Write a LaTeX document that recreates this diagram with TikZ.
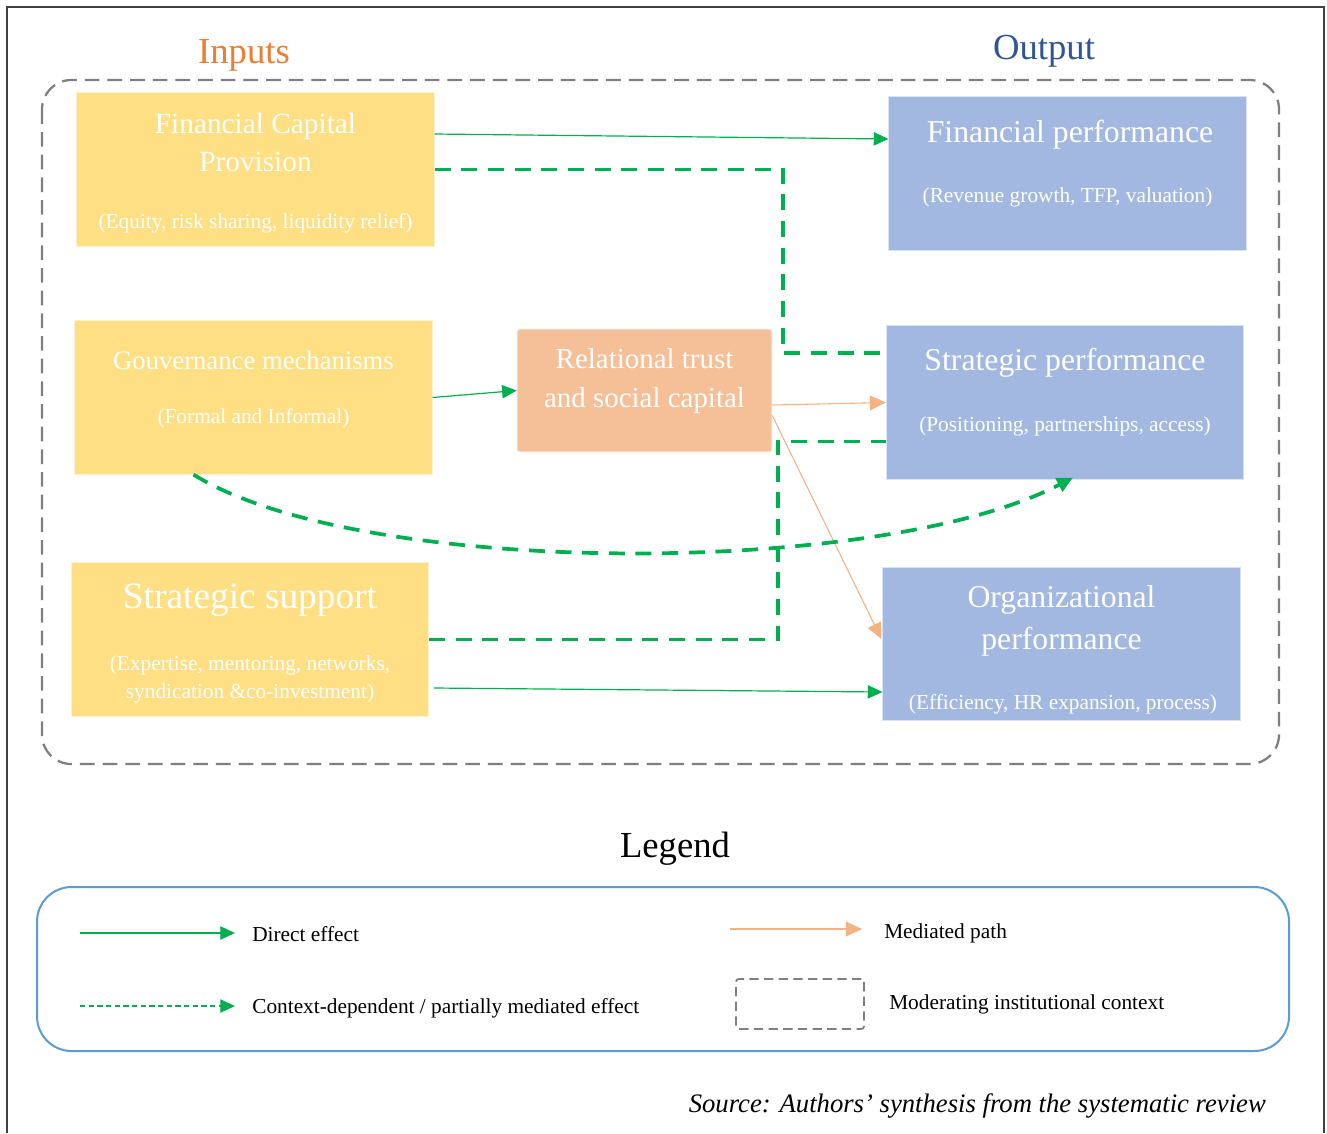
\documentclass[tikz,border=0pt]{standalone}
\usepackage{fontspec}
\setmainfont{Liberation Serif}
\usetikzlibrary{arrows.meta,calc}

\definecolor{inYellow}{HTML}{FFDF84}
\definecolor{relOrange}{HTML}{F5BF98}
\definecolor{outBlue}{HTML}{A2B8E0}
\definecolor{lineGreen}{HTML}{00B050}
\definecolor{lineOrange}{HTML}{F4B183}
\definecolor{ctxGray}{HTML}{7F7F7F}
\definecolor{legBlue}{HTML}{5B9BD5}
\definecolor{frameGray}{HTML}{404040}
\definecolor{inTitle}{HTML}{ED7D31}
\definecolor{outTitle}{HTML}{2F5597}

\tikzset{
  box/.style={fill=#1, draw=white!60!#1, line width=0.6pt, minimum width=268pt, minimum height=115pt, inner sep=0pt},
  ttl/.style={text=white, align=center, inner sep=0pt, font=\fontsize{22}{28.5}\selectfont},
  sub/.style={text=white, align=center, inner sep=0pt, font=\fontsize{16}{21}\selectfont},
  legtxt/.style={anchor=west, inner sep=0pt, font=\fontsize{16}{18}\selectfont},
  direct/.style={draw=lineGreen, line width=0.9pt, -{Triangle[length=11pt,width=10pt]}},
  mediated/.style={draw=lineOrange, line width=0.8pt, -{Triangle[length=12pt,width=11pt]}},
  ctx/.style={draw=lineGreen, line width=2.8pt, dash pattern=on 12pt off 8pt},
}

\begin{document}
\begin{tikzpicture}[x=0.75pt,y=0.75pt,yscale=-1,xscale=1]
\useasboundingbox (0,0) rectangle (1327,1133);

%Shape: Frame
\draw [frameGray, line width=1.5pt] (7,1133) -- (7,7) -- (1324,7) -- (1324,1133) ;
%Shape: Institutional context
\draw [ctxGray, line width=1.7pt, dash pattern=on 11pt off 6pt, rounded corners=22pt] (42,80) rectangle (1279,764) ;

% Text Node
\node [text=inTitle, font=\fontsize{27.5}{32}\selectfont] (inT) at (244,55) {Inputs};
% Text Node
\node [text=outTitle, font=\fontsize{27.5}{32}\selectfont] (outT) at (1044,51) {Output};

%Shape: Input boxes
\node [box=inYellow] (fcp) at (255.5,169.5) {};
\node [box=inYellow] (gov) at (253.5,397.5) {};
\node [box=inYellow] (ss) at (250,639.5) {};
%Shape: Mediator
\node [box=relOrange, minimum width=191pt, minimum height=92pt, rounded corners=2pt] (rel) at (644.5,390.5) {};
%Shape: Output boxes
\node [box=outBlue] (fp) at (1067.5,173.5) {};
\node [box=outBlue] (sp) at (1065,402.5) {};
\node [box=outBlue] (op) at (1061.5,644) {};

% Text Node
\node [ttl] (fcpT) at (255.5,142) {Financial Capital\\Provision};
\node [sub] (fcpS) at (255.5,223) {(Equity, risk sharing, liquidity relief)};
% Text Node
\node [ttl, font=\fontsize{20}{24}\selectfont] (govT) at (253.5,360) {Gouvernance mechanisms};
\node [sub] (govS) at (253.5,418) {(Formal and Informal)};
% Text Node
\node [ttl, font=\fontsize{28}{32}\selectfont] (ssT) at (250,600) {Strategic support};
\node [sub] (ssS) at (250,679) {(Expertise, mentoring, networks,\\syndication \&co-investment)};
% Text Node
\node [ttl, font=\fontsize{21.7}{29}\selectfont] (relT) at (644.5,381) {Relational trust\\and social capital};
% Text Node
\node [ttl, font=\fontsize{23.8}{28}\selectfont] (fpT) at (1070,135) {Financial performance};
\node [sub] (fpS) at (1067.5,197) {(Revenue growth, TFP, valuation)};
% Text Node
\node [ttl, font=\fontsize{23.8}{28}\selectfont] (spT) at (1065,363) {Strategic performance};
\node [sub] (spS) at (1065,426) {(Positioning, partnerships, access)};
% Text Node
\node [ttl, font=\fontsize{23.8}{31.5}\selectfont] (opT) at (1061.5,621) {Organizational\\performance};
\node [sub] (opS) at (1063,704) {(Efficiency, HR expansion, process)};

%Straight Lines
\draw [direct] ($(fcp.east)+(0,-35.5)$) -- ($(fp.west)+(0,-34.5)$) ;
\coordinate (kA) at (783,353) ;
\draw [ctx] (fcp.east) -| (kA) -- (kA -| sp.west) ;
\coordinate (kB) at (778,441.5) ;
\draw [ctx] (ss.east) -| (kB) -- (kB -| sp.west) ;
\draw [direct] (gov.east) -- (rel.west) ;
\draw [mediated] ($(rel.east)+(0,14.5)$) -- (sp.west) ;
\draw [mediated] ($(rel.east)+(0,25)$) -- ($(op.west)+(-1,-5)$) ;
\draw [direct] ($(ss.east)+(5,48.5)$) -- ($(op.west)+(0,48)$) ;
%Curve Lines
\draw [ctx, -{Triangle[length=12pt,width=11pt]}] ($(gov.south)+(-60,0)$) .. controls (360,578) and (880,578) .. ($(sp.south)+(8,-2)$) ;

% Text Node
\node [font=\fontsize{27.5}{32}\selectfont] (legT) at (675,849) {Legend};
%Shape: Legend box
\draw [legBlue, line width=1.5pt, rounded corners=26pt] (37,887) rectangle (1289,1051) ;

% Text Node
\node [legtxt] (lgDir) at (252,934) {Direct effect};
\draw [direct] ($(lgDir.west)+(-172,-1)$) -- ($(lgDir.west)+(-17,-1)$) ;
% Text Node
\node [legtxt] (lgCtx) at (252,1008) {Context-dependent / partially mediated effect};
\draw [draw=lineGreen, line width=0.8pt, dash pattern=on 4pt off 2.5pt, -{Triangle[length=11pt,width=10pt]}] ($(lgCtx.west)+(-172,-2)$) -- ($(lgCtx.west)+(-17,-2)$) ;
% Text Node
\node [legtxt] (lgMed) at (884,933) {Mediated path};
\draw [mediated] ($(lgMed.west)+(-154,-4)$) -- ($(lgMed.west)+(-22,-4)$) ;
% Text Node
\node [draw=ctxGray, line width=1.3pt, dash pattern=on 7pt off 4pt, rounded corners=2pt, minimum width=96pt, minimum height=37.5pt, inner sep=0pt] (lgMod) at (800,1004) {};
\node [legtxt] (lgModT) at (889,1004) {Moderating institutional context};

% Text Node
\node [anchor=east, inner sep=0pt, font=\itshape\fontsize{20}{24}\selectfont] (src) at (1266,1106) {Source: Authors’ synthesis from the systematic review};

\end{tikzpicture}
\end{document}
